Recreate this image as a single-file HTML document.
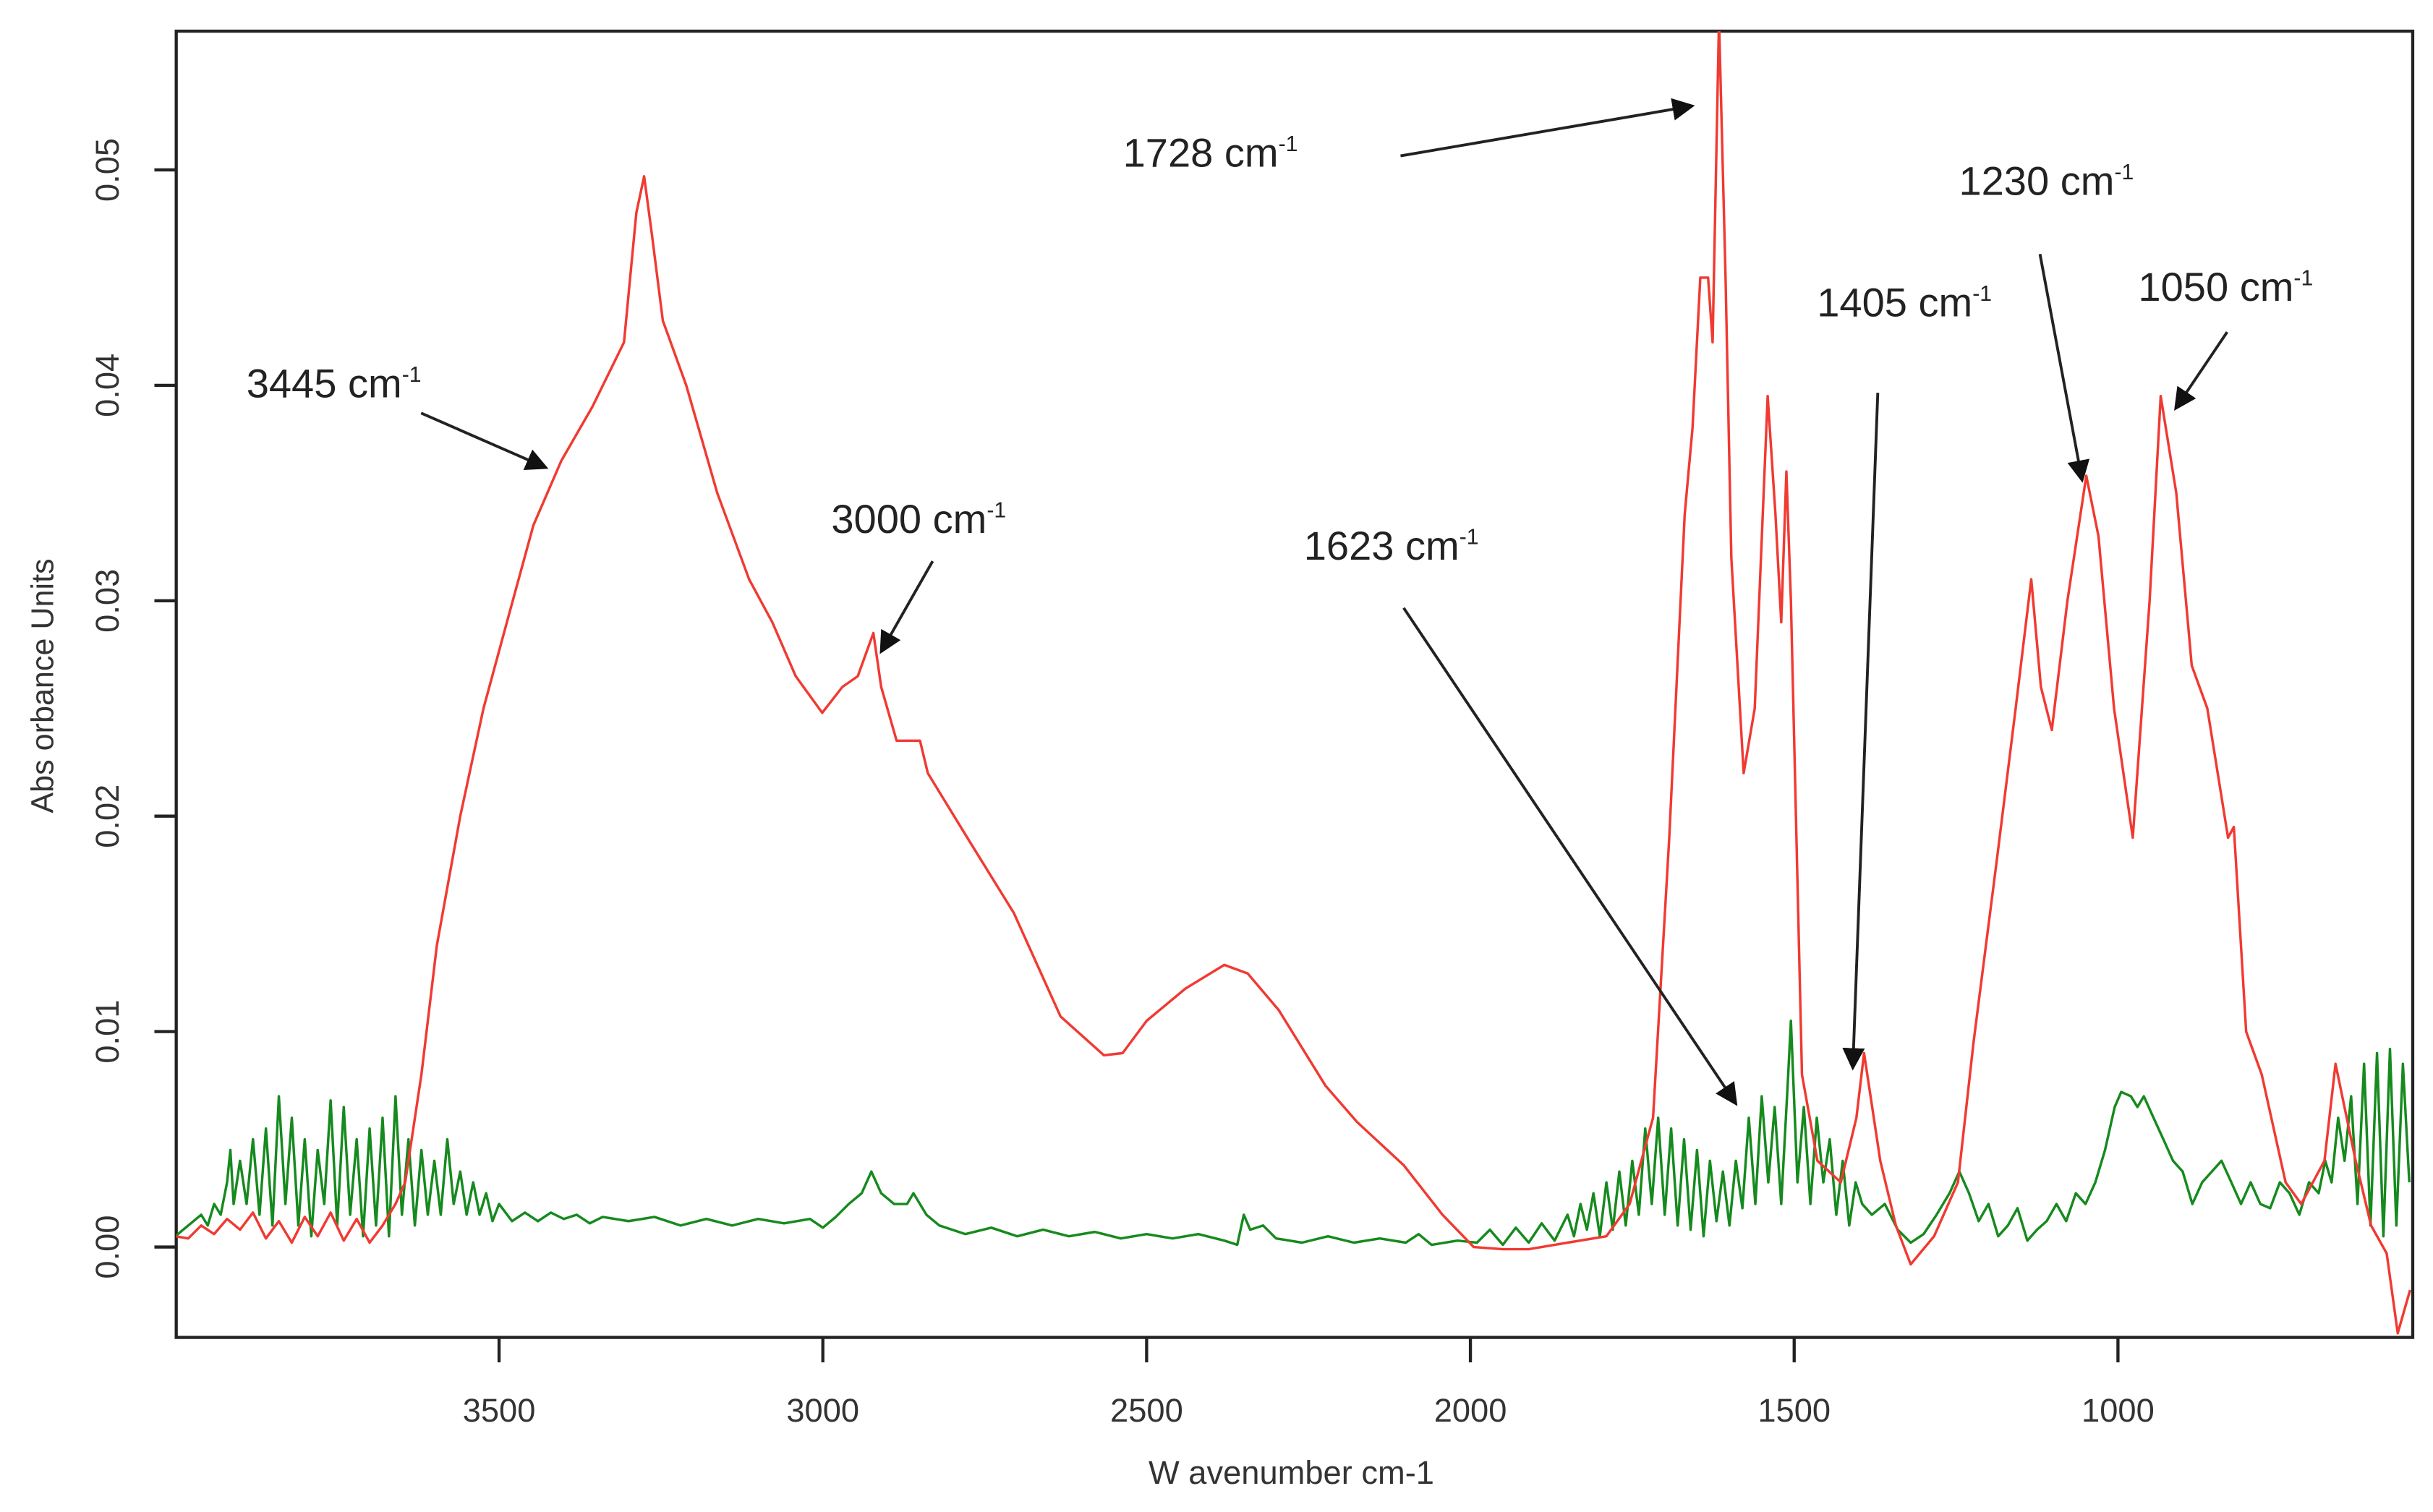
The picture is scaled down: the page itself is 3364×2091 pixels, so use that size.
<!DOCTYPE html>
<html><head><meta charset="utf-8">
<style>
html,body{margin:0;padding:0;background:#fff;}
svg{display:block;}
text{font-family:"Liberation Sans",sans-serif;}
</style></head>
<body>
<svg id="chart" width="3364" height="2091" viewBox="0 0 1560 970" preserveAspectRatio="none" xmlns="http://www.w3.org/2000/svg">
<defs>
<clipPath id="plotclip"><rect x="113" y="20" width="1434" height="838"/></clipPath>
<marker id="ah" markerWidth="8" markerHeight="8" refX="7" refY="4" orient="auto" markerUnits="strokeWidth"><path d="M0,0 L8,4 L0,8 z" fill="#111"/></marker>
</defs>
<rect x="113" y="20" width="1434" height="838" fill="none" stroke="#222" stroke-width="2"/>
<g id="ticks"></g>
<g id="series" clip-path="url(#plotclip)"></g>
<g id="annots"></g>
<text x="0" y="0" transform="translate(34,440) rotate(-90)" text-anchor="middle" font-size="20" fill="#333">Abs orbance Units</text>
<text x="828" y="952" text-anchor="middle" font-size="21" fill="#333">W avenumber cm-1</text>
</svg>
<script>
const xTicks=[3500,3000,2500,2000,1500,1000];
const yTicks=[0,0.01,0.02,0.03,0.04,0.05];
const yTickLabels=["0.00","0.01","0.02","0.03","0.04","0.05"];
const redWn=[4000,3980,3960,3940,3920,3900,3880,3860,3840,3820,3800,3780,3760,3740,3720,3700,3680,3660,3645,3620,3596,3560,3524,3488,3447,3404,3356,3307,3288,3276,3264,3247,3211,3163,3114,3078,3042,3001,2970,2946,2922,2910,2886,2850,2838,2777,2705,2633,2566,2537,2500,2440,2380,2344,2296,2224,2175,2103,2043,1995,1950,1910,1850,1790,1754,1718,1693,1669,1657,1645,1633,1626,1616,1606,1597,1578,1561,1541,1529,1520,1512,1505,1488,1464,1428,1404,1392,1367,1343,1320,1284,1247,1223,1187,1158,1134,1119,1102,1078,1049,1030,1006,977,951,934,910,886,862,830,821,802,778,741,717,681,664,633,609,585,568,549];
const redAbs=[0.0005,0.0004,0.001,0.0006,0.0013,0.0008,0.0016,0.0004,0.0012,0.0002,0.0014,0.0005,0.0016,0.0003,0.0013,0.0002,0.001,0.002,0.003,0.008,0.014,0.020,0.025,0.029,0.0335,0.0365,0.039,0.042,0.048,0.0497,0.047,0.043,0.040,0.035,0.031,0.029,0.0265,0.0248,0.026,0.0265,0.0285,0.026,0.0235,0.0235,0.022,0.019,0.0155,0.0107,0.0089,0.009,0.0105,0.012,0.0131,0.0127,0.011,0.0075,0.0058,0.0038,0.0015,0.0,-0.0001,-0.0001,0.0002,0.0005,0.002,0.006,0.019,0.034,0.038,0.045,0.045,0.042,0.057,0.045,0.032,0.022,0.025,0.0395,0.034,0.029,0.036,0.030,0.008,0.004,0.003,0.006,0.009,0.004,0.001,-0.0008,0.0005,0.003,0.0095,0.018,0.025,0.031,0.026,0.024,0.030,0.0358,0.033,0.025,0.019,0.030,0.0395,0.035,0.027,0.025,0.019,0.0195,0.010,0.008,0.003,0.002,0.004,0.0085,0.004,0.001,-0.0003,-0.004,-0.002];
const greenWn=[4000,3980,3960,3950,3940,3930,3920,3915,3910,3900,3890,3880,3870,3860,3850,3840,3830,3820,3810,3800,3790,3780,3770,3760,3750,3740,3730,3720,3710,3700,3690,3680,3670,3660,3650,3640,3630,3620,3610,3600,3590,3580,3570,3560,3550,3540,3530,3520,3510,3500,3480,3460,3440,3420,3400,3380,3360,3340,3300,3260,3220,3180,3140,3100,3060,3020,3000,2980,2960,2940,2925,2910,2890,2870,2860,2840,2820,2780,2740,2700,2660,2620,2580,2540,2500,2460,2420,2380,2360,2350,2340,2320,2300,2260,2220,2180,2140,2100,2080,2060,2020,1990,1970,1950,1930,1910,1890,1870,1850,1840,1830,1820,1810,1800,1790,1780,1770,1760,1750,1740,1730,1720,1710,1700,1690,1680,1670,1660,1650,1640,1630,1620,1610,1600,1590,1580,1570,1560,1550,1540,1530,1520,1510,1505,1495,1485,1475,1465,1455,1445,1435,1425,1415,1405,1395,1380,1360,1340,1320,1300,1280,1260,1245,1230,1215,1200,1185,1170,1155,1140,1125,1110,1095,1080,1065,1050,1035,1020,1005,995,980,970,960,945,930,915,900,885,870,855,840,825,810,795,780,765,750,735,720,705,690,680,670,660,650,640,630,620,610,600,590,580,570,560,550];
const greenAbs=[0.0005,0.001,0.0015,0.001,0.002,0.0015,0.003,0.0045,0.002,0.004,0.002,0.005,0.0015,0.0055,0.001,0.007,0.002,0.006,0.001,0.005,0.0005,0.0045,0.002,0.0068,0.001,0.0065,0.0015,0.005,0.0005,0.0055,0.001,0.006,0.0005,0.007,0.0015,0.005,0.001,0.0045,0.0015,0.004,0.0015,0.005,0.002,0.0035,0.0015,0.003,0.0015,0.0025,0.0012,0.002,0.0012,0.0016,0.0012,0.0016,0.0013,0.0015,0.0011,0.0014,0.0012,0.0014,0.001,0.0013,0.001,0.0013,0.0011,0.0013,0.0009,0.0014,0.002,0.0025,0.0035,0.0025,0.002,0.002,0.0025,0.0015,0.001,0.0006,0.0009,0.0005,0.0008,0.0005,0.0007,0.0004,0.0006,0.0004,0.0006,0.0003,0.0001,0.0015,0.0008,0.001,0.0004,0.0002,0.0005,0.0002,0.0004,0.0002,0.0006,0.0001,0.0003,0.0002,0.0008,0.0001,0.0009,0.0002,0.0011,0.0003,0.0015,0.0005,0.002,0.0008,0.0025,0.0005,0.003,0.0008,0.0035,0.001,0.004,0.0015,0.0055,0.002,0.006,0.0015,0.0055,0.001,0.005,0.0008,0.0045,0.0005,0.004,0.0012,0.0035,0.001,0.004,0.0018,0.006,0.002,0.007,0.003,0.0065,0.002,0.0075,0.0105,0.003,0.0065,0.002,0.006,0.003,0.005,0.0015,0.004,0.001,0.003,0.002,0.0015,0.002,0.0008,0.0002,0.0006,0.0015,0.0025,0.0035,0.0025,0.0012,0.002,0.0005,0.001,0.0018,0.0003,0.0008,0.0012,0.002,0.0012,0.0025,0.002,0.003,0.0045,0.0065,0.0072,0.007,0.0065,0.007,0.006,0.005,0.004,0.0035,0.002,0.003,0.0035,0.004,0.003,0.002,0.003,0.002,0.0018,0.003,0.0025,0.0015,0.003,0.0025,0.004,0.003,0.006,0.004,0.007,0.002,0.0085,0.001,0.009,0.0005,0.0092,0.001,0.0085,0.003];
const annLabels=["1728 cm","3445 cm","3000 cm","1623 cm","1405 cm","1230 cm","1050 cm"];

const NS="http://www.w3.org/2000/svg";
const X0=113,X1=1547,Y0=20,Y1=858;
function xs(w){return 320+(3500-w)*(1358-320)/2500;}
function ys(a){return 800-a*(800-109)/0.05;}
function mk(tag,attrs,parent){const e=document.createElementNS(NS,tag);for(const k in attrs)e.setAttribute(k,attrs[k]);parent.appendChild(e);return e;}

const ticks=document.getElementById('ticks');
xTicks.forEach((t,i)=>{
  const l=mk('line',{x1:xs(t),x2:xs(t),y1:Y1,y2:Y1+16,stroke:'#222','stroke-width':2},ticks);
  
  
  const tx=mk('text',{x:xs(t),y:912,'text-anchor':'middle','font-size':21,fill:'#333'},ticks);
  tx.textContent=String(t);
  
  
});
yTicks.forEach((t,i)=>{
  const l=mk('line',{x1:X0-14,x2:X0,y1:ys(t),y2:ys(t),stroke:'#222','stroke-width':2},ticks);
  
  
  const tx=mk('text',{x:0,y:0,transform:'translate(76,'+ys(t)+') rotate(-90)','text-anchor':'middle','font-size':21,fill:'#333'},ticks);
  tx.textContent=yTickLabels[i];
  
  
});

const series=document.getElementById('series');
function line(wn,ab,color,name){
  let d='';
  for(let i=0;i<wn.length;i++){d+=(i?'L':'M')+xs(wn[i]).toFixed(1)+','+ys(ab[i]).toFixed(1);}
  const p=mk('path',{d:d,fill:'none',stroke:color,'stroke-width':1.6,'stroke-linejoin':'round'},series);
  
  
}
line(greenWn,greenAbs,'#168a1e','green-spectrum-line');
line(redWn,redAbs,'#f03a32','red-spectrum-line');

const annots=document.getElementById('annots');
const annPos=[[720,107,898,100,1085,68],[158,255,270,265,350,300],[533,342,598,360,565,418],[836,359,900,390,1113,708],[1165,203,1204,252,1188,685],[1256,125,1308,163,1335,308],[1371,193,1428,213,1395,262]];
annLabels.forEach((lab,i)=>{
  const p=annPos[i];
  const t=mk('text',{x:p[0],y:p[1],'font-size':26,fill:'#222'},annots);
  
  
  t.textContent=lab;
  const s=document.createElementNS(NS,'tspan');
  s.setAttribute('dy','-10');s.setAttribute('font-size','14');s.textContent='-1';
  t.appendChild(s);
  const a=mk('line',{x1:p[2],y1:p[3],x2:p[4],y2:p[5],stroke:'#222','stroke-width':1.8,'marker-end':'url(#ah)'},annots);
  
  
});
</script>
</body></html>
